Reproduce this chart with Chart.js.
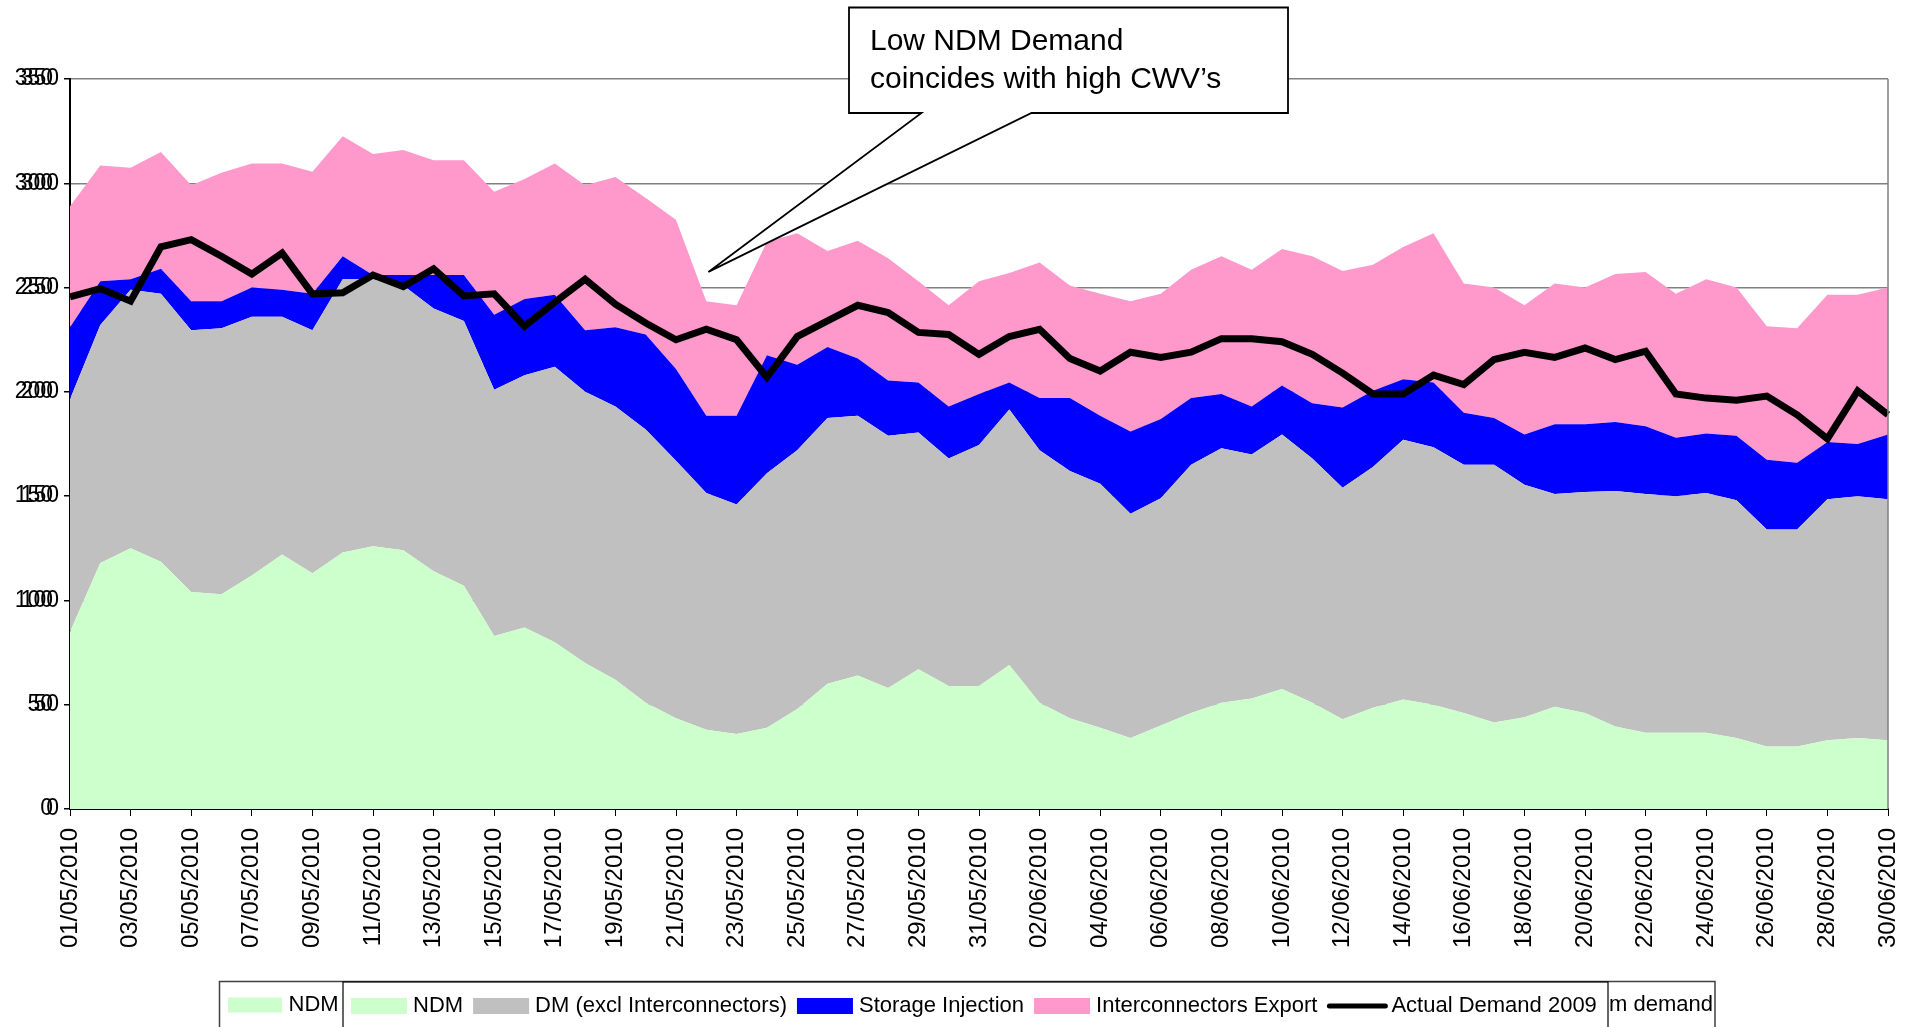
<!DOCTYPE html>
<html>
<head>
<meta charset="utf-8">
<script src="https://cdn.jsdelivr.net/npm/chart.js@4.4.1/dist/chart.umd.min.js"></script>
<style>
  html, body { margin: 0; padding: 0; background: #fff; }
  #wrap { width: 1915px; height: 1027px; position: relative; }
</style>
</head>
<body>
<div id="wrap"><canvas id="myChart"></canvas></div>
<script>
// categories: one per day, May–June 2010
const dates = [
  '01/05/2010','02/05/2010','03/05/2010','04/05/2010','05/05/2010','06/05/2010','07/05/2010','08/05/2010','09/05/2010','10/05/2010',
  '11/05/2010','12/05/2010','13/05/2010','14/05/2010','15/05/2010','16/05/2010','17/05/2010','18/05/2010','19/05/2010','20/05/2010',
  '21/05/2010','22/05/2010','23/05/2010','24/05/2010','25/05/2010','26/05/2010','27/05/2010','28/05/2010','29/05/2010','30/05/2010',
  '31/05/2010','01/06/2010','02/06/2010','03/06/2010','04/06/2010','05/06/2010','06/06/2010','07/06/2010','08/06/2010','09/06/2010',
  '10/06/2010','11/06/2010','12/06/2010','13/06/2010','14/06/2010','15/06/2010','16/06/2010','17/06/2010','18/06/2010','19/06/2010',
  '20/06/2010','21/06/2010','22/06/2010','23/06/2010','24/06/2010','25/06/2010','26/06/2010','27/06/2010','28/06/2010','29/06/2010',
  '30/06/2010'
];

// stacked series (each value is that layer's own thickness)
const ndm = [85,118,125,118.5,104,103,112,122,113,123, 126,124,114,107,83,87,80,70,62,51,
  43.5,38,36,39,48,60,64,58,67,59, 59,69,51,43.5,39,34,40,46,51,53,
  57.5,51,43,48.5,52.5,50,46,41.5,44,49, 46,39.5,36.5,36.5,36.5,34,30,30,33,34, 33];
const dm = [111.5,114,124,128.5,125.5,127.5,124,114,116.5,131, 128,127,126,127,118,121,132,130,131,131,
  123.5,113.5,110,122,124,127.5,124.5,121,113.5,109, 115.5,122.5,121,118.5,117,107.5,109,119,122,117,
  122,117,111,115.5,124.5,123.5,119,123.5,111.5,102, 106,113,114.5,113.5,115,114,104,104,115.5,116, 115.5];
const storage = [34.5,21,5,12,14,13,14,13,17.5,11, 2,5,16,22,36,36.5,34.5,29.5,38,45.5,
  44,37,42.5,56.5,41,34,27.5,26.5,24,25, 24.5,13,25,35,32.5,39.5,38,32,26,23,
  23.5,26.5,38.5,36.5,29,31,25,22.5,24,33.5, 32.5,33,32.5,28,28.5,31,33.5,32,27.5,25, 31];
const interconnectors = [58,55.5,53.5,56,55.5,61.5,59.5,60.5,58.5,57.5, 58,60,55,55,59,57.5,63,69.5,72,65.5,
  71.5,55,53,54.5,63,46,56.5,58.5,48.5,48.5, 54,52.5,65,54,58.5,62.5,60,61.5,66,65.5,
  65.5,70.5,65.5,60.5,63.5,71.5,62,62.5,62,67.5, 65.5,71,74,69,74,71,64,64.5,70.5,71.5, 70.5];
// unstacked line
const actual2009 = [245.5,249.5,243.5,269.5,273,265,256.5,266.5,247,247.5, 256,250.5,259,246,247,231.5,243,254,242,233,
  225,230,225,207,226.5,234,241.5,238,228.5,227.5, 218,226.5,230,216,210,219,216.5,219,225.5,225.5,
  224,218,209,199,199,208,203.5,215.5,219,216.5, 221,215.5,219.5,199,197,196,198,189,177.5,200.5, 189];

const yMin = 0, yMax = 350, yStep = 50;
const calloutLines = ['Low NDM Demand', 'coincides with high CWV\u2019s'];
const calloutTip = { index: 21.07, value: 257.5 };

const FONT = "'Liberation Sans', Arial, sans-serif";

function area(label, data, color, fill) {
  return { label: label, data: data, backgroundColor: color, borderColor: color, borderWidth: 0,
           fill: fill, pointRadius: 0, tension: 0, stack: 'supply', order: 1 };
}

// right border, ghost y labels, callout and legend box
const extras = {
  id: 'extras',
  afterDraw(chart) {
    const ctx = chart.ctx, a = chart.chartArea, ys = chart.scales.y;
    ctx.save();
    ctx.strokeStyle = '#808080';
    ctx.lineWidth = 1.5;
    ctx.beginPath();
    ctx.moveTo(a.right, a.top); ctx.lineTo(a.right, a.bottom);
    ctx.stroke();

    // second, slightly shifted copy of the value labels (as in the source image)
    ctx.fillStyle = '#000';
    ctx.font = '23px ' + FONT;
    ctx.textAlign = 'right';
    ctx.textBaseline = 'middle';
    ys.ticks.forEach(t => {
      ctx.fillText(String(t.value), a.left - 17, ys.getPixelForValue(t.value));
    });

    // callout
    const tx = chart.scales.x.getPixelForValue(calloutTip.index);
    const ty = ys.getPixelForValue(calloutTip.value);
    ctx.beginPath();
    ctx.moveTo(849, 7.5); ctx.lineTo(1288, 7.5); ctx.lineTo(1288, 113);
    ctx.lineTo(1031.5, 113); ctx.lineTo(tx, ty); ctx.lineTo(921.5, 113);
    ctx.lineTo(849, 113); ctx.closePath();
    ctx.fillStyle = '#fff'; ctx.fill();
    ctx.strokeStyle = '#000'; ctx.lineWidth = 1.8; ctx.stroke();
    ctx.fillStyle = '#000';
    ctx.font = '30px ' + FONT;
    ctx.textBaseline = 'alphabetic';
    ctx.textAlign = 'left';
    ctx.fillText(calloutLines[0], 870, 50);
    ctx.fillText(calloutLines[1], 870, 88);

    // legend
    const cy = 1006;
    ctx.font = '22px ' + FONT;
    ctx.textBaseline = 'middle';
    ctx.lineWidth = 1.5;
    ctx.strokeStyle = '#404040';
    ctx.strokeRect(219.5, 981.5, 1715 - 219.5, 60);
    ctx.fillStyle = '#fff';
    ctx.fillRect(343, 982, 1608 - 343, 50);
    ctx.strokeStyle = '#000';
    ctx.lineWidth = 1.2;
    ctx.strokeRect(343, 982, 1608 - 343, 60);
    // ghost entries of the chart underneath
    ctx.fillStyle = '#CCFFCC';
    ctx.fillRect(228, cy - 8.5, 54, 15);
    ctx.fillStyle = '#000';
    ctx.fillText('NDM', 288.5, cy - 1);
    ctx.fillText('m demand', 1609, cy - 1);

    let x = 351;
    [0, 1, 2, 3, 4].forEach(i => {
      const ds = chart.data.datasets[i];
      if (ds.fill === false) {
        ctx.strokeStyle = ds.borderColor;
        ctx.lineWidth = 5;
        ctx.lineCap = 'round';
        ctx.beginPath();
        ctx.moveTo(x + 2, cy); ctx.lineTo(x + 58, cy);
        ctx.stroke();
        x += 64;
      } else {
        ctx.fillStyle = ds.backgroundColor;
        ctx.fillRect(x, cy - 8, 56, 16);
        x += 62;
      }
      ctx.fillStyle = '#000';
      ctx.fillText(ds.label, x, cy);
      x += ctx.measureText(ds.label).width + 10;
    });
    ctx.restore();
  }
};

const ctx = document.getElementById('myChart').getContext('2d');
const chart = new Chart(ctx, {
  type: 'line',
  data: {
    labels: dates,
    datasets: [
      area('NDM', ndm, '#CCFFCC', 'origin'),
      area('DM (excl Interconnectors)', dm, '#C0C0C0', '-1'),
      area('Storage Injection', storage, '#0000FF', '-1'),
      area('Interconnectors Export', interconnectors, '#FF99CC', '-1'),
      { label: 'Actual Demand 2009', data: actual2009, borderColor: '#000000', backgroundColor: '#000000',
        borderWidth: 7, fill: false, pointRadius: 0, tension: 0, stack: 'demand', order: 0,
        borderJoinStyle: 'miter' }
    ]
  },
  options: {
    responsive: true,
    maintainAspectRatio: false,
    animation: false,
    devicePixelRatio: 1,
    layout: { padding: { top: 79, right: 27, bottom: 0, left: 0 } },
    plugins: { legend: { display: false }, tooltip: { enabled: false } },
    scales: {
      x: {
        offset: false,
        grid: {
          drawOnChartArea: false, drawTicks: true, tickLength: 7,
          tickColor: c => (c.index % 2 === 0 ? '#000' : 'rgba(0,0,0,0)')
        },
        border: { display: true, color: '#000', width: 2 },
        ticks: {
          autoSkip: false, maxRotation: 90, minRotation: 90, padding: 12,
          color: '#000', font: { family: FONT, size: 24 },
          callback: (v, i) => (i % 2 === 0 ? dates[i] : '')
        },
        afterFit: s => { s.height = 218; s.paddingLeft = 0; s.paddingRight = 0; }
      },
      y: {
        stacked: true,
        min: yMin, max: yMax,
        grid: { color: '#808080', lineWidth: 1.5, drawTicks: true, tickLength: 6, tickColor: '#000' },
        border: { display: true, color: '#000', width: 2 },
        ticks: { stepSize: yStep, padding: 5, color: '#000', font: { family: FONT, size: 23 } },
        afterFit: s => { s.width = 70; }
      }
    }
  },
  plugins: [extras]
});
</script>
</body>
</html>
